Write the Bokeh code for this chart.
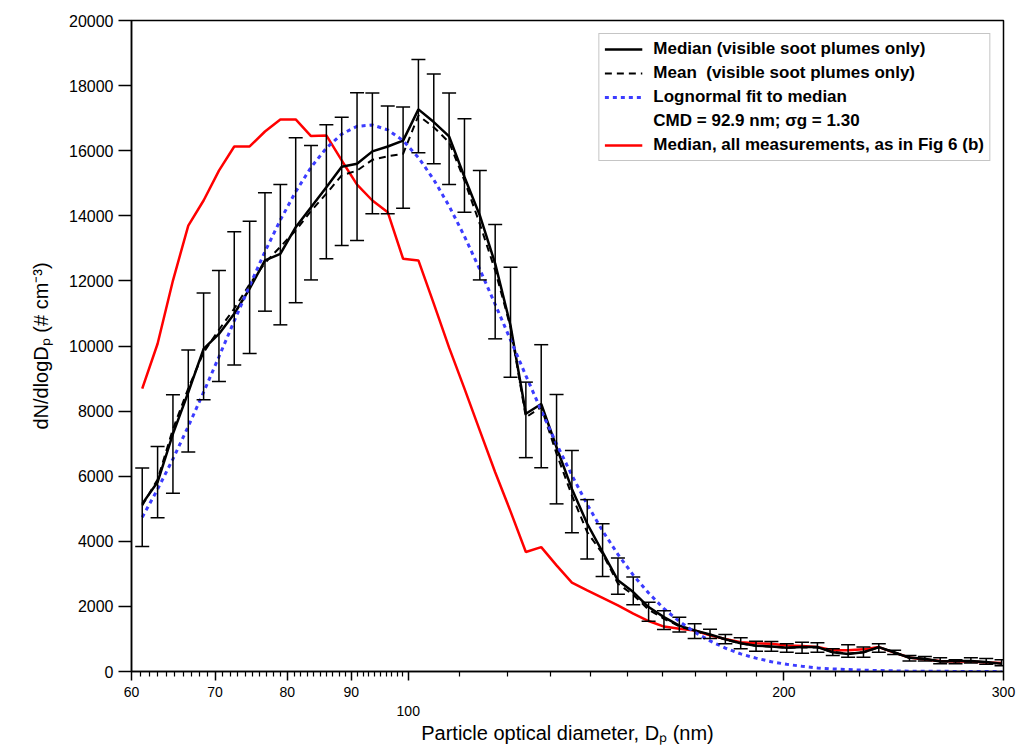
from bokeh.plotting import figure
from bokeh.models import (Range1d, FixedTicker, ColumnDataSource, Whisker, TeeHead,
                          Legend, LegendItem, BasicTickFormatter)
from bokeh.embed import file_html
from bokeh.resources import INLINE

# ---------------- data ----------------
diameter_nm = [61.2, 62.96, 64.77, 66.63, 68.54, 70.51, 72.53, 74.62, 76.76, 78.97,
               81.24, 83.57, 85.97, 88.44, 90.98, 93.59, 96.28, 99.05, 101.89, 104.82,
               107.83, 110.93, 114.12, 117.4, 120.77, 124.24, 127.81, 131.48, 135.26, 139.14,
               143.14, 147.25, 151.48, 155.83, 160.31, 164.92, 169.65, 174.53, 179.54, 184.7,
               190.01, 195.46, 201.08, 206.85, 212.8, 218.91, 225.2, 231.67, 238.32, 245.17,
               252.21, 259.46, 266.91, 274.58, 282.47, 290.58, 298.93]

median_soot = [5150, 5820, 7300, 8580, 9910, 10370, 10990, 11760, 12630, 12830,
               13650, 14260, 14880, 15510, 15600, 15980, 16130, 16310, 17270, 16880,
               16440, 15190, 14010, 12530, 10630, 7920, 8220, 6890, 5610, 4540,
               3670, 2800, 2440, 1980, 1670, 1410, 1260, 1140, 990, 870,
               790, 770, 730, 750, 750, 590, 540, 590, 750, 590,
               420, 390, 310, 320, 320, 290, 240]

err_upper = [6250, 6910, 8500, 9880, 11630, 12320, 13510, 13830, 14710, 14960,
             16400, 16160, 16800, 17030, 17780, 17770, 17370, 17340, 18800, 18360,
             17770, 16980, 15390, 13730, 12420, 8890, 10040, 8510, 6790, 5280,
             4540, 3490, 2900, 2130, 1870, 1670, 1470, 1300, 1140, 1040,
             930, 920, 850, 900, 880, 700, 820, 750, 850, 650,
             490, 460, 420, 360, 420, 400, 360]

err_lower = [3840, 4720, 5480, 6740, 8350, 8910, 9420, 9770, 11070, 10650,
             11330, 12030, 12680, 13090, 13240, 14060, 14060, 14230, 15940, 15600,
             14960, 14110, 12030, 10220, 9040, 6570, 6260, 5150, 4260, 3460,
             2920, 2370, 2050, 1540, 1290, 1210, 1010, 1010, 850, 700,
             620, 620, 590, 560, 590, 490, 440, 440, 590, 520,
             320, 320, 240, 240, 260, 220, 180]

mean_soot = [5100, 5900, 7450, 8700, 9800, 10500, 11150, 11900, 12550, 13050,
             13550, 14150, 14680, 15240, 15390, 15720, 15830, 15900, 17080, 16720,
             16260, 15080, 13750, 12320, 10580, 7810, 8120, 6690, 5410, 4280,
             3620, 2700, 2350, 1900, 1620, 1390, 1240, 1130, 980, 860,
             790, 760, 730, 740, 740, 600, 550, 590, 740, 590,
             420, 380, 310, 310, 310, 280, 230]

lognormal_fit = [4740, 5600, 6530, 7530, 8580, 9670, 10770, 11850, 12900, 13870,
                 14740, 15490, 16080, 16510, 16750, 16790, 16640, 16310, 15790, 15110,
                 14300, 13370, 12350, 11280, 10190, 9090, 8020, 6990, 6030, 5130,
                 4320, 3600, 2960, 2410, 1930, 1540, 1210, 940, 720, 540,
                 410, 300, 220, 160, 110, 80, 60, 40, 30, 20,
                 10, 10, 5, 3, 2, 1, 1]

median_all = [8690, 10070, 12010, 13700, 14470, 15390, 16130, 16130, 16590, 16960,
              16960, 16450, 16470, 15700, 14960, 14470, 14110, 12680, 12630, 11300,
              9950, 8690, 7400, 6120, 4920, 3670, 3820, 3260, 2730, 2490,
              2260, 2030, 1780, 1550, 1380, 1310, 1260, 1110, 1000, 900,
              870, 850, 800, 780, 750, 650, 650, 680, 750, 580,
              430, 370, 320, 310, 310, 280, 260]

legend_labels = ["Median (visible soot plumes only)",
                 "Mean  (visible soot plumes only)",
                 "Lognormal fit to median",
                 "CMD = 92.9 nm; \u03c3g = 1.30",
                 "Median, all measurements, as in Fig 6 (b)"]

x_labeled_ticks = [60, 70, 80, 90, 100, 200, 300]
x_minor_ticks = [d for d in range(61, 100) if d % 10 != 0] + \
                [d for d in range(110, 300, 10) if d != 200]
y_ticks = list(range(0, 20001, 2000))

FONT = "Liberation Sans"

# ---------------- figure ----------------
p = figure(width=1016, height=749, x_axis_type="log",
           x_range=Range1d(60, 300), y_range=Range1d(0, 20000),
           output_backend="svg", toolbar_location=None,
           min_border_left=131, min_border_right=13, min_border_top=20, min_border_bottom=78)
p.grid.visible = False
p.outline_line_color = "black"
p.outline_line_width = 1.5
p.background_fill_color = "white"
p.border_fill_color = "white"

# x axis
xa = p.xaxis[0]
xa.ticker = FixedTicker(ticks=x_labeled_ticks, minor_ticks=x_minor_ticks)
xa.formatter = BasicTickFormatter(use_scientific=False)
xa.major_label_overrides = {100: "\n100"}
xa.major_tick_out = 9
xa.major_tick_in = 0
xa.minor_tick_out = 5
xa.minor_tick_in = 0
xa.major_tick_line_width = 1.5
xa.minor_tick_line_width = 1.2
xa.axis_line_width = 1.5
xa.axis_line_color = "black"
xa.major_label_standoff = 3
xa.major_label_text_font = FONT
xa.major_label_text_font_size = "14px"
xa.major_label_text_color = "black"
xa.axis_label = "Particle optical diameter, D\u209a (nm)"
xa.axis_label_text_font = FONT
xa.axis_label_text_font_size = "20px"
xa.axis_label_text_font_style = "normal"
xa.axis_label_text_color = "black"
xa.axis_label_standoff = 0

# y axis
ya = p.yaxis[0]
ya.ticker = FixedTicker(ticks=y_ticks)
ya.formatter = BasicTickFormatter(use_scientific=False)
ya.major_tick_out = 13
ya.major_tick_in = 0
ya.minor_tick_out = 0
ya.minor_tick_in = 0
ya.major_tick_line_width = 1.5
ya.axis_line_width = 1.5
ya.axis_line_color = "black"
ya.major_label_standoff = 5
ya.major_label_text_font = FONT
ya.major_label_text_font_size = "16px"
ya.major_label_text_color = "black"
ya.axis_label = "dN/dlogD\u209a (# cm\u207b\u00b3)"
ya.axis_label_text_font = FONT
ya.axis_label_text_font_size = "20px"
ya.axis_label_text_font_style = "normal"
ya.axis_label_text_color = "black"
ya.axis_label_standoff = 14

# ---------------- data renderers ----------------
src = ColumnDataSource(dict(d=diameter_nm, med=median_soot, mean=mean_soot,
                            up=err_upper, lo=err_lower, fit=lognormal_fit, allm=median_all))

r_all = p.line("d", "allm", source=src, line_color="#ff0000", line_width=2.5)

wh = Whisker(base="d", upper="up", lower="lo", source=src, line_color="black", line_width=1.5,
             upper_head=TeeHead(size=14, line_color="black", line_width=1.5),
             lower_head=TeeHead(size=14, line_color="black", line_width=1.5),
             level="glyph")
p.add_layout(wh)

r_mean = p.line("d", "mean", source=src, line_color="black", line_width=2, line_dash="7 5")
r_med = p.line("d", "med", source=src, line_color="black", line_width=2.5)
r_fit = p.line("d", "fit", source=src, line_color="#3c3cff", line_width=3, line_dash="4 4")
r_blank = p.line(x=[], y=[], line_alpha=0)

legend = Legend(items=[LegendItem(label=legend_labels[0], renderers=[r_med]),
                       LegendItem(label=legend_labels[1], renderers=[r_mean]),
                       LegendItem(label=legend_labels[2], renderers=[r_fit]),
                       LegendItem(label=legend_labels[3], renderers=[r_blank]),
                       LegendItem(label=legend_labels[4], renderers=[r_all])],
                location="top_right", margin=13, padding=5, spacing=4,
                glyph_width=38, glyph_height=20, label_height=20, label_standoff=11,
                label_text_font=FONT, label_text_font_size="17px",
                label_text_font_style="bold", label_text_color="black",
                border_line_color="#8c8c8c", border_line_width=1.5,
                background_fill_color="white", background_fill_alpha=1.0)
p.add_layout(legend)

open("out.html", "w").write(file_html(p, INLINE))
